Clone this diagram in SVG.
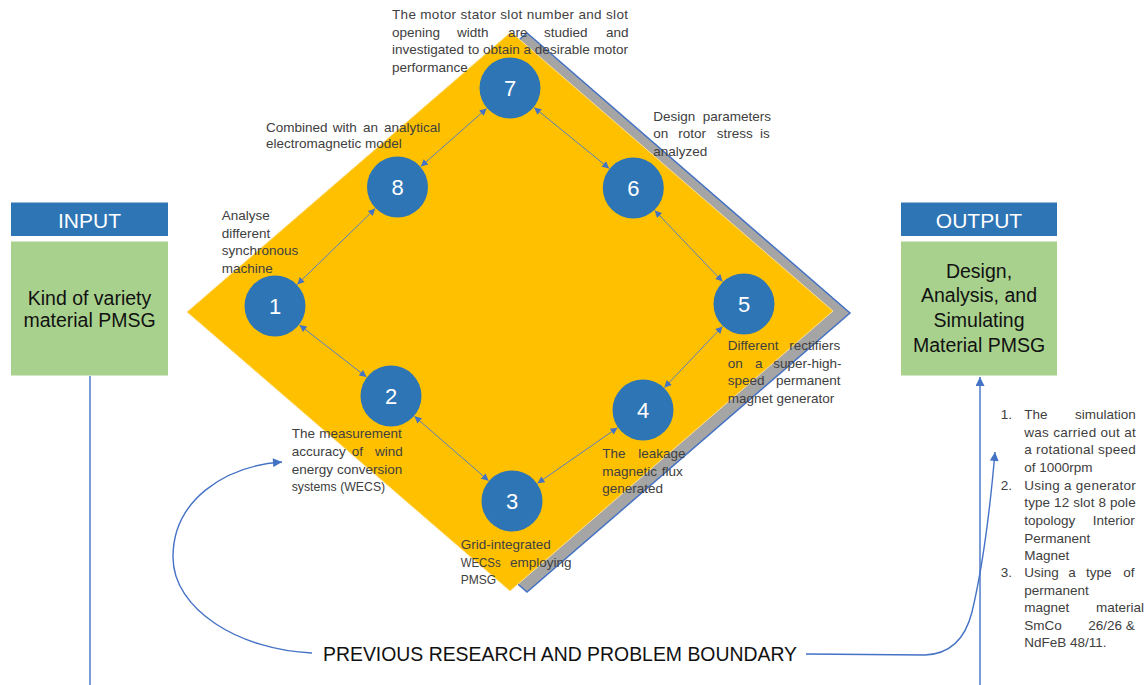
<svg xmlns="http://www.w3.org/2000/svg" width="1145" height="685" viewBox="0 0 1145 685">
  <defs>
    <style>
      .t { font-family: "Liberation Sans", Arial, sans-serif; font-size: 13.5px; fill: #404040; }
      .big { font-family: "Liberation Sans", Arial, sans-serif; font-size: 19.5px; fill: #111; text-anchor: middle; }
      .hdr { font-family: "Liberation Sans", Arial, sans-serif; font-size: 21px; fill: #ffffff; text-anchor: middle; }
      .num { font-family: "Liberation Sans", Arial, sans-serif; font-size: 22px; fill: #ffffff; text-anchor: middle; }
      .node { fill: #2E75B6; }
      .link { stroke: #5B7FC0; stroke-width: 1; fill: none; marker-start: url(#tip); marker-end: url(#tip); }
      .flow { stroke: #4472C4; stroke-width: 1.4; fill: none; }
    </style>
    <marker id="tip" viewBox="0 0 10 10" refX="10" refY="5" markerWidth="9" markerHeight="7" markerUnits="userSpaceOnUse" orient="auto-start-reverse">
      <path d="M0,0 L10,5 L0,10 z" fill="#4472C4"/>
    </marker>
    <marker id="head" viewBox="0 0 10 10" refX="10" refY="5" markerWidth="11" markerHeight="9" markerUnits="userSpaceOnUse" orient="auto">
      <path d="M0,0 L10,5 L0,10 z" fill="#4472C4"/>
    </marker>
  </defs>

  <rect width="1145" height="685" fill="#ffffff"/>

  <!-- backdrop diamond with shadow -->
  <g id="backdrop">
    <polygon points="204,313 527,33 850,313 527,592" fill="#A5A5A5" stroke="#4472C4" stroke-width="1.5"/>
    <polygon points="187,312 511,32 833,311 510,591" fill="#FFC000" stroke="#FFE08C" stroke-width="1"/>
  </g>

  <!-- connectors -->
  <g id="connectors">
    <line class="link" x1="297.2" y1="284.4" x2="375.3" y2="208.6"/>
    <line class="link" x1="420.8" y1="166.5" x2="486.7" y2="108.5"/>
    <line class="link" x1="534.1" y1="107.5" x2="609.2" y2="168.5"/>
    <line class="link" x1="654.7" y1="210.4" x2="722.6" y2="281.6"/>
    <line class="link" x1="722.6" y1="326.4" x2="664.4" y2="387.6"/>
    <line class="link" x1="617.5" y1="427.7" x2="537.5" y2="483.3"/>
    <line class="link" x1="488.6" y1="480.7" x2="414.4" y2="416.3"/>
    <line class="link" x1="366.5" y1="377" x2="299.5" y2="325"/>

    <line class="flow" x1="90" y1="376" x2="90" y2="685"/>
    <line class="flow" x1="980" y1="685" x2="980" y2="377" marker-end="url(#head)"/>
    <path class="flow" d="M312,653 C240,650 173,610 173,557 C173,500 225,466 282,462" marker-end="url(#head)"/>
    <path class="flow" d="M806,654 L925,655 C950,654 965,640 972,612 C982,570 990,510 995,452" marker-end="url(#head)"/>
  </g>

  <!-- input box -->
  <g id="input">
    <rect x="11" y="202.5" width="157" height="33.5" fill="#2E75B6"/>
    <text class="hdr" x="89.5" y="228">INPUT</text>
    <rect x="11" y="241.5" width="157" height="134" fill="#A9D18E"/>
    <text class="big" x="89.5" y="305">Kind of variety</text>
    <text class="big" x="89.5" y="326.7">material PMSG</text>
  </g>

  <!-- output box -->
  <g id="output">
    <rect x="901" y="202.5" width="156" height="33.5" fill="#2E75B6"/>
    <text class="hdr" x="979" y="228">OUTPUT</text>
    <rect x="901" y="241.5" width="156" height="134" fill="#A9D18E"/>
    <text class="big" x="979" y="277.5">Design,</text>
    <text class="big" x="979" y="302">Analysis, and</text>
    <text class="big" x="979" y="326.7">Simulating</text>
    <text class="big" x="979" y="351.5">Material PMSG</text>
  </g>

  <!-- numbered steps -->
  <g id="node7">
    <circle class="node" cx="510" cy="88" r="30.5"/>
    <text class="num" x="510" y="96">7</text>
    <text class="t" x="392" y="19" textLength="236" lengthAdjust="spacing">The motor stator slot number and slot</text>
    <text class="t" y="36.7"><tspan x="392">opening</tspan><tspan x="457">width</tspan><tspan x="508">are</tspan><tspan x="544">studied</tspan><tspan x="606">and</tspan></text>
    <text class="t" x="392" y="54.3" textLength="236" lengthAdjust="spacing">investigated to obtain a desirable motor</text>
    <text class="t" x="392" y="72">performance</text>
  </g>

  <g id="node8">
    <circle class="node" cx="397.5" cy="187" r="30.5"/>
    <text class="num" x="397.5" y="195">8</text>
    <text class="t" y="131.7"><tspan x="266">Combined</tspan><tspan x="332.7">with</tspan><tspan x="363">an</tspan><tspan x="384">analytical</tspan></text>
    <text class="t" x="266" y="148.3">electromagnetic model</text>
  </g>

  <g id="node6">
    <circle class="node" cx="633.3" cy="188" r="30.5"/>
    <text class="num" x="633.3" y="196">6</text>
    <text class="t" y="120.7"><tspan x="653.3">Design</tspan><tspan x="702.7">parameters</tspan></text>
    <text class="t" y="138.3"><tspan x="653.3">on</tspan><tspan x="678.3">rotor</tspan><tspan x="716.7">stress</tspan><tspan x="760">is</tspan></text>
    <text class="t" x="653.3" y="155.5">analyzed</text>
  </g>

  <g id="node1">
    <circle class="node" cx="275" cy="306" r="30.5"/>
    <text class="num" x="275" y="314">1</text>
    <text class="t" x="221.7" y="220">Analyse</text>
    <text class="t" x="221.7" y="237.7">different</text>
    <text class="t" x="221.7" y="255.3">synchronous</text>
    <text class="t" x="221.7" y="272.8">machine</text>
  </g>

  <g id="node5">
    <circle class="node" cx="744" cy="304" r="30.5"/>
    <text class="num" x="744" y="312">5</text>
    <text class="t" y="350"><tspan x="727.7">Different</tspan><tspan x="789.3">rectifiers</tspan></text>
    <text class="t" y="367.7"><tspan x="727.7">on</tspan><tspan x="755">a</tspan><tspan x="773.3">super-high-</tspan></text>
    <text class="t" y="385.3"><tspan x="727.7">speed</tspan><tspan x="776">permanent</tspan></text>
    <text class="t" x="727.7" y="402.7">magnet generator</text>
  </g>

  <g id="node2">
    <circle class="node" cx="391" cy="396" r="30.5"/>
    <text class="num" x="391" y="404">2</text>
    <text class="t" y="438.3"><tspan x="291.7">The</tspan><tspan x="319.3">measurement</tspan></text>
    <text class="t" y="456"><tspan x="291.7">accuracy</tspan><tspan x="351.7">of</tspan><tspan x="375">wind</tspan></text>
    <text class="t" y="473.5"><tspan x="291.7">energy</tspan><tspan x="337">conversion</tspan></text>
    <text class="t" x="291.7" y="491" textLength="93.5" lengthAdjust="spacingAndGlyphs">systems (WECS)</text>
  </g>

  <g id="node4">
    <circle class="node" cx="643" cy="410" r="30.5"/>
    <text class="num" x="643" y="418">4</text>
    <text class="t" y="458.3"><tspan x="602.3">The</tspan><tspan x="638.3">leakage</tspan></text>
    <text class="t" y="476"><tspan x="602.3">magnetic</tspan><tspan x="661.7">flux</tspan></text>
    <text class="t" x="602.3" y="493.3">generated</text>
  </g>

  <g id="node3">
    <circle class="node" cx="512" cy="501" r="30.5"/>
    <text class="num" x="512" y="509">3</text>
    <text class="t" x="460.7" y="549">Grid-integrated</text>
    <text class="t" x="460.7" y="566.7" textLength="40" lengthAdjust="spacingAndGlyphs">WECSs</text>
    <text class="t" x="510" y="566.7">employing</text>
    <text class="t" x="460.7" y="584.3" textLength="35.5" lengthAdjust="spacingAndGlyphs">PMSG</text>
  </g>

  <!-- result notes -->
  <g id="notes">
    <text class="t" x="1000.7" y="419.3">1.</text>
    <text class="t" y="419.3"><tspan x="1024.3">The</tspan><tspan x="1075">simulation</tspan></text>
    <text class="t" x="1024.3" y="436.7" textLength="111.4" lengthAdjust="spacing">was carried out at</text>
    <text class="t" x="1024.3" y="454.3" textLength="111.4" lengthAdjust="spacing">a rotational speed</text>
    <text class="t" x="1024.3" y="472">of 1000rpm</text>
    <text class="t" x="1000.7" y="489.7">2.</text>
    <text class="t" x="1024.3" y="489.7" textLength="111.4" lengthAdjust="spacing">Using a generator</text>
    <text class="t" x="1024.3" y="507.3" textLength="111.4" lengthAdjust="spacing">type 12 slot 8 pole</text>
    <text class="t" y="525"><tspan x="1024.3">topology</tspan><tspan x="1092.7">Interior</tspan></text>
    <text class="t" x="1024.3" y="542.7">Permanent</text>
    <text class="t" x="1024.3" y="560">Magnet</text>
    <text class="t" x="1000.7" y="577.3">3.</text>
    <text class="t" y="577.3"><tspan x="1024.3">Using</tspan><tspan x="1068.3">a</tspan><tspan x="1086">type</tspan><tspan x="1123.3">of</tspan></text>
    <text class="t" x="1024.3" y="595">permanent</text>
    <text class="t" y="612.3"><tspan x="1024.3">magnet</tspan><tspan x="1096">material</tspan></text>
    <text class="t" y="630"><tspan x="1024.3">SmCo</tspan><tspan x="1088.3">26/26</tspan><tspan x="1125.7">&amp;</tspan></text>
    <text class="t" x="1024.3" y="647.3">NdFeB 48/11.</text>
  </g>

  <g id="boundary">
    <text x="323" y="661" font-family="'Liberation Sans', Arial, sans-serif" font-size="21" fill="#111" textLength="474" lengthAdjust="spacingAndGlyphs">PREVIOUS RESEARCH AND PROBLEM BOUNDARY</text>
  </g>
</svg>
